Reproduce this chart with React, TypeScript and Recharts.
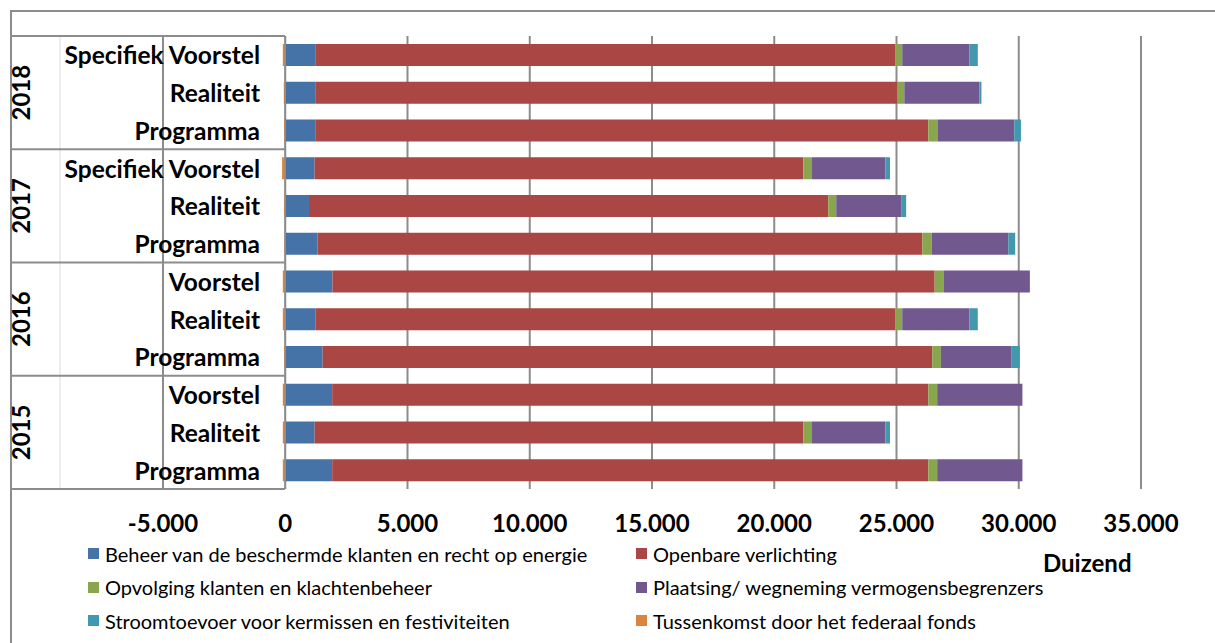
import React from "react";
import {
  BarChart,
  Bar,
  XAxis,
  YAxis,
  CartesianGrid,
  ReferenceLine,
} from "recharts";

// rows top to bottom
const rowYears = ["2018", "2018", "2018", "2017", "2017", "2017", "2016", "2016", "2016", "2015", "2015", "2015"];
const rowLabels = [
  "Specifiek Voorstel", "Realiteit", "Programma",
  "Specifiek Voorstel", "Realiteit", "Programma",
  "Voorstel", "Realiteit", "Programma",
  "Voorstel", "Realiteit", "Programma",
];

// values in thousands (Duizend)
const beheer = [1250, 1250, 1250, 1200, 970, 1320, 1930, 1230, 1530, 1920, 1200, 1920];
const verlichting = [23700, 23770, 25050, 19990, 21240, 24740, 24630, 23720, 24930, 24380, 19990, 24380];
const opvolging = [285, 300, 395, 355, 325, 380, 380, 285, 355, 365, 355, 365];
const plaatsing = [2750, 3075, 3120, 3000, 2655, 3130, 3515, 2750, 2875, 3485, 3000, 3485];
const stroom = [340, 80, 275, 190, 205, 285, 0, 340, 355, 0, 190, 0];
const tussenkomst = [-100, -60, -50, -130, -50, -30, -100, -100, -50, -100, -100, -100];

const seriesKeys = ["beheer", "verlichting", "opvolging", "plaatsing", "stroom", "tussenkomst"];
const seriesNames = [
  "Beheer van de beschermde klanten en recht op energie",
  "Openbare verlichting",
  "Opvolging klanten en klachtenbeheer",
  "Plaatsing/ wegneming vermogensbegrenzers",
  "Stroomtoevoer voor kermissen en festiviteiten",
  "Tussenkomst door het federaal fonds",
];
const seriesColors = ["#4572A7", "#AA4643", "#89A54E", "#71588F", "#4198AF", "#DB843D"];
const seriesValues = [beheer, verlichting, opvolging, plaatsing, stroom, tussenkomst];

const xTicks = [-5000, 0, 5000, 10000, 15000, 20000, 25000, 30000, 35000];

const data = rowLabels.map((label, i) => {
  const row: Record<string, any> = { key: rowYears[i] + "|" + label, label, year: rowYears[i] };
  seriesKeys.forEach((k, s) => (row[k] = seriesValues[s][i]));
  return row;
});

const W = 1215;
const H = 643;
const TOP = 36;
const BOTTOM = 489;
const PLOT_LEFT = 163;
const Y_AXIS_W = 100;
const X_AXIS_H = 40;
const ROW_H = (BOTTOM - TOP) / data.length;
const LINE = "#8c8c8c";
const FONT = "Lato, 'Open Sans', sans-serif";

const fmt = (v: number) =>
  (v < 0 ? "-" : "") + String(Math.abs(v)).replace(/\B(?=(\d{3})+(?!\d))/g, ".");

const CategoryTick = (props: any) => {
  const { y, payload } = props;
  const i: number = payload?.index ?? props.index ?? 0;
  const groupStart = i % 3 === 0;
  return (
    <g>
      {i === 0 && (
        <line x1={60} x2={60} y1={TOP} y2={BOTTOM} stroke="#dcdcdc" strokeWidth={1} />
      )}
      {groupStart && (
        <>
          <line x1={10} x2={285} y1={y - ROW_H / 2} y2={y - ROW_H / 2} stroke={LINE} strokeWidth={2} />
          <text
            x={20}
            y={y + ROW_H}
            transform={`rotate(-90, 20, ${y + ROW_H})`}
            textAnchor="middle"
            dominantBaseline="central"
            fontFamily={FONT}
            fontWeight="bold"
            fontSize={24}
            fill="#000"
          >
            {rowYears[i]}
          </text>
        </>
      )}
      {i === data.length - 1 && (
        <line x1={10} x2={285} y1={y + ROW_H / 2} y2={y + ROW_H / 2} stroke={LINE} strokeWidth={2} />
      )}
      <text
        x={260}
        y={y}
        textAnchor="end"
        dominantBaseline="central"
        fontFamily={FONT}
        fontWeight="bold"
        fontSize={24.5}
        fill="#000"
      >
        {rowLabels[i]}
      </text>
    </g>
  );
};

const LegendBox = () => (
  <div
    style={{
      position: "absolute",
      left: 88,
      top: 537,
      display: "grid",
      gridTemplateColumns: "548px 560px",
      rowGap: 0,
      fontFamily: FONT,
      fontSize: 20,
      color: "#000",
    }}
  >
    {seriesNames.map((name, i) => (
      <div key={name} style={{ display: "flex", alignItems: "center", height: 33.5 }}>
        <span
          style={{
            width: 11,
            height: 11,
            background: seriesColors[i],
            display: "inline-block",
            marginRight: 6,
          }}
        />
        <span style={{ whiteSpace: "nowrap" }}>{name}</span>
      </div>
    ))}
  </div>
);

export default function App() {
  return (
    <div style={{ position: "relative", width: W, height: H, background: "#fff", overflow: "hidden" }}>
      <style>{`body{margin:0}`}</style>
      <div
        style={{
          position: "absolute",
          left: 10,
          top: 10,
          width: W,
          height: H,
          borderTop: `2px solid ${LINE}`,
          borderLeft: `2px solid ${LINE}`,
        }}
      />
      <BarChart
        width={W}
        height={H}
        data={data}
        layout="vertical"
        stackOffset="sign"
        barSize={22}
        margin={{ top: TOP, right: W - 1141, bottom: H - BOTTOM - X_AXIS_H, left: PLOT_LEFT - Y_AXIS_W }}
        style={{ position: "absolute", left: 0, top: 0 }}
      >
        <CartesianGrid horizontal={false} stroke={LINE} strokeWidth={2} />
        <ReferenceLine x={0} stroke={LINE} strokeWidth={1.5} />
        <XAxis
          type="number"
          domain={[-5000, 35000]}
          ticks={xTicks}
          tickFormatter={fmt}
          axisLine={false}
          tickLine={false}
          tickSize={0}
          tickMargin={26}
          height={X_AXIS_H}
          tick={{ fontFamily: FONT, fontWeight: "bold", fontSize: 24, fill: "#000" }}
          interval={0}
          allowDataOverflow
        />
        <YAxis
          type="category"
          dataKey="key"
          width={Y_AXIS_W}
          axisLine={false}
          tickLine={false}
          interval={0}
          tick={<CategoryTick />}
        />
        {seriesKeys.map((k, s) => (
          <Bar
            key={k}
            dataKey={k}
            name={seriesNames[s]}
            stackId="a"
            fill={seriesColors[s]}
            isAnimationActive={false}
          />
        ))}
      </BarChart>
      <LegendBox />
      <div
        style={{
          position: "absolute",
          left: 1043,
          top: 548,
          fontFamily: FONT,
          fontWeight: "bold",
          fontSize: 24,
          color: "#000",
        }}
      >
        Duizend
      </div>
    </div>
  );
}
